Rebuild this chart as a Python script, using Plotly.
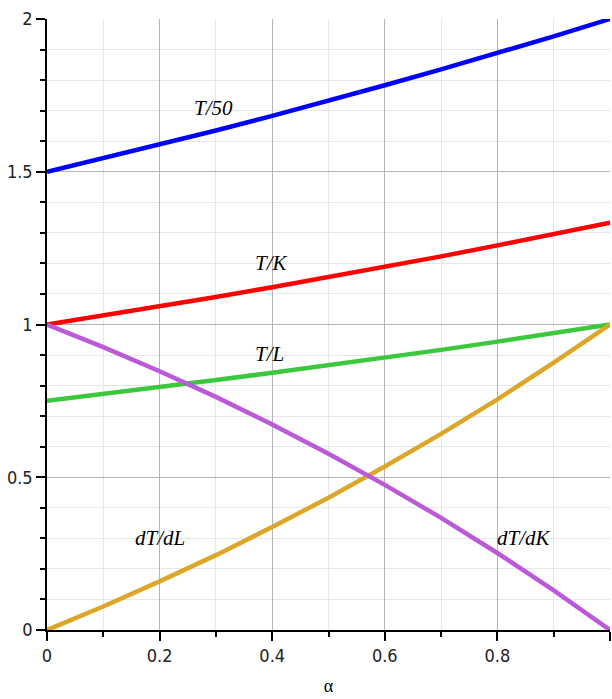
import plotly.graph_objects as go

# share of labour alpha on the horizontal axis
alpha = [0.0, 0.1, 0.2, 0.3, 0.4, 0.5, 0.6, 0.7, 0.8, 0.9, 1.0]

# output and marginal-product curves at each alpha
t_over_50 = [1.500, 1.544, 1.589, 1.635, 1.683, 1.732, 1.783, 1.835, 1.888, 1.943, 2.000]
t_over_k = [1.000, 1.029, 1.059, 1.090, 1.122, 1.155, 1.188, 1.223, 1.259, 1.296, 1.333]
t_over_l = [0.750, 0.772, 0.794, 0.818, 0.842, 0.866, 0.891, 0.917, 0.944, 0.972, 1.000]
dt_dl = [0.000, 0.077, 0.159, 0.245, 0.337, 0.433, 0.535, 0.642, 0.755, 0.875, 1.000]
dt_dk = [1.000, 0.926, 0.847, 0.763, 0.673, 0.577, 0.475, 0.367, 0.252, 0.130, 0.000]

series = [
    ("T/50", t_over_50, "#0000ff"),
    ("T/K", t_over_k, "#ff0000"),
    ("T/L", t_over_l, "#3cc83c"),
    ("dT/dL", dt_dl, "#dca628"),
    ("dT/dK", dt_dk, "#bb5ad8"),
]

# curve labels: text, x, y
labels = [
    ("T/50", 0.295, 1.71),
    ("T/K", 0.398, 1.20),
    ("T/L", 0.396, 0.905),
    ("dT/dL", 0.20, 0.30),
    ("dT/dK", 0.848, 0.30),
]

fig = go.Figure()
for name, ys, color in series:
    fig.add_trace(go.Scatter(
        x=alpha, y=ys, mode="lines", name=name,
        line=dict(color=color, width=4.5),
        showlegend=False,
    ))

for text, x, y in labels:
    fig.add_annotation(
        x=x, y=y, text=text, showarrow=False,
        font=dict(family="Liberation Serif, serif", size=21, color="black", style="italic"),
    )

tick_font = dict(family="Liberation Sans Narrow, DejaVu Sans Condensed, Liberation Sans, sans-serif",
                 size=18, color="#222222")

fig.update_xaxes(
    range=[0, 1], dtick=0.2, tick0=0,
    showline=True, linecolor="black", linewidth=1.5,
    ticks="outside", ticklen=9, tickcolor="black", tickwidth=1.5,
    showgrid=True, gridcolor="#b4b4b4", gridwidth=1.2,
    zeroline=False, tickfont=tick_font,
    minor=dict(dtick=0.1, ticks="outside", ticklen=5, tickcolor="black",
               showgrid=True, gridcolor="#e6e6e6", gridwidth=1.2),
    title=dict(text="α", font=dict(family="Liberation Serif, serif", size=18, color="black"),
               standoff=14),
)
fig.update_yaxes(
    range=[0, 2], dtick=0.5, tick0=0,
    showline=True, linecolor="black", linewidth=1.5,
    ticks="outside", ticklen=9, tickcolor="black", tickwidth=1.5,
    showgrid=True, gridcolor="#b4b4b4", gridwidth=1.2,
    zeroline=False, tickfont=tick_font,
    minor=dict(dtick=0.1, ticks="outside", ticklen=5, tickcolor="black",
               showgrid=True, gridcolor="#e6e6e6", gridwidth=1.2),
)

fig.update_layout(
    width=612, height=699,
    margin=dict(l=47, r=2, t=19, b=69),
    plot_bgcolor="white", paper_bgcolor="white",
)

fig.write_html("out.html")
